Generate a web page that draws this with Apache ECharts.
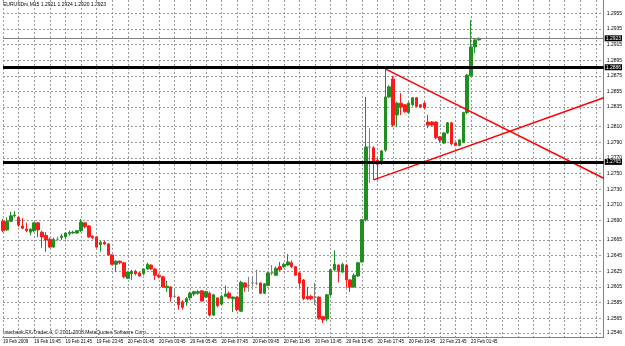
<!DOCTYPE html>
<html><head><meta charset="utf-8">
<script src="https://cdn.jsdelivr.net/npm/echarts@6/dist/echarts.min.js"></script>
<style>html,body{margin:0;padding:0;background:#fff}#c{width:625px;height:346px}</style>
</head><body><div id="c"></div>
<script>
const symbolTitle = 'EURUSDm,M15 1.2921 1.2924 1.2920 1.2923';
const copyright = 'Interbank FX-Trader 4, \u00a9 2001-2008 MetaQuotes Software Corp.';
const timeLabels = ['19 Feb 2009','19 Feb 19:45','19 Feb 21:45','19 Feb 23:45','20 Feb 01:45','20 Feb 03:45','20 Feb 05:45','20 Feb 07:45','20 Feb 09:45','20 Feb 11:45','20 Feb 13:45','20 Feb 15:45','20 Feb 17:45','20 Feb 19:45','22 Feb 23:45','23 Feb 01:45'];
const yTicks = [1.2955,1.2935,1.2915,1.2895,1.2875,1.2855,1.2835,1.2810,1.2790,1.2770,1.2750,1.2730,1.2710,1.2690,1.2665,1.2645,1.2625,1.2605,1.2585,1.2565,1.2546];
// [open, close, low, high]
const candles = [
[1.2689,1.2677,1.2675,1.2692],[1.2678,1.2689,1.2677,1.2694],[1.2689,1.2696,1.2688,1.2701],[1.2696,1.2697,1.2694,1.2702],
[1.2694,1.2684,1.2682,1.2696],[1.2683,1.2680,1.2679,1.2693],[1.2679,1.2677,1.2675,1.2687],[1.2675,1.2679,1.2671,1.2680],
[1.2677,1.2687,1.2675,1.2688],[1.2687,1.2678,1.2669,1.2688],[1.2675,1.2669,1.2655,1.2677],[1.2671,1.2665,1.2650,1.2675],
[1.2666,1.2656,1.2655,1.2668],[1.2656,1.2666,1.2655,1.2668],[1.2666,1.2666,1.2664,1.2669],[1.2668,1.2670,1.2665,1.2673],
[1.2669,1.2674,1.2666,1.2675],[1.2673,1.2675,1.2671,1.2677],[1.2674,1.2675,1.2673,1.2677],[1.2674,1.2677,1.2673,1.2678],
[1.2677,1.2688,1.2675,1.2692],[1.2687,1.2682,1.2680,1.2688],[1.2683,1.2669,1.2668,1.2684],[1.2670,1.2668,1.2666,1.2671],
[1.2669,1.2656,1.2655,1.2670],[1.2659,1.2662,1.2650,1.2664],[1.2662,1.2660,1.2659,1.2664],[1.2660,1.2646,1.2645,1.2661],
[1.2646,1.2634,1.2633,1.2647],[1.2634,1.2638,1.2624,1.2639],[1.2638,1.2636,1.2634,1.2639],[1.2636,1.2618,1.2616,1.2637],
[1.2616,1.2624,1.2615,1.2625],[1.2622,1.2625,1.2614,1.2627],[1.2625,1.2622,1.2620,1.2627],[1.2623,1.2619,1.2618,1.2624],
[1.2622,1.2628,1.2620,1.2629],[1.2628,1.2634,1.2627,1.2636],[1.2633,1.2628,1.2627,1.2634],[1.2628,1.2620,1.2614,1.2629],
[1.2620,1.2618,1.2616,1.2622],[1.2618,1.2605,1.2604,1.2619],[1.2604,1.2606,1.2599,1.2613],[1.2605,1.2592,1.2586,1.2606],
[1.2593,1.2593,1.2591,1.2601],[1.2592,1.2582,1.2576,1.2593],[1.2586,1.2579,1.2576,1.2588],[1.2586,1.2590,1.2581,1.2592],
[1.2591,1.2597,1.2588,1.2599],[1.2596,1.2599,1.2593,1.2600],[1.2597,1.2599,1.2595,1.2601],[1.2600,1.2587,1.2586,1.2601],
[1.2592,1.2599,1.2591,1.2600],[1.2597,1.2569,1.2567,1.2599],[1.2569,1.2595,1.2568,1.2596],[1.2591,1.2581,1.2579,1.2592],
[1.2583,1.2593,1.2582,1.2595],[1.2593,1.2596,1.2592,1.2607],[1.2597,1.2591,1.2590,1.2599],[1.2590,1.2592,1.2573,1.2593],
[1.2592,1.2576,1.2574,1.2593],[1.2574,1.2611,1.2573,1.2613],[1.2610,1.2605,1.2599,1.2611],[1.2607,1.2607,1.2599,1.2618],
[1.2610,1.2610,1.2605,1.2619],[1.2610,1.2610,1.2607,1.2627],[1.2610,1.2597,1.2596,1.2611],[1.2597,1.2609,1.2596,1.2610],
[1.2607,1.2623,1.2606,1.2624],[1.2623,1.2623,1.2620,1.2633],[1.2620,1.2629,1.2619,1.2631],[1.2631,1.2627,1.2625,1.2637],
[1.2631,1.2634,1.2629,1.2636],[1.2633,1.2637,1.2632,1.2647],[1.2636,1.2631,1.2629,1.2639],[1.2631,1.2620,1.2619,1.2632],
[1.2623,1.2610,1.2604,1.2624],[1.2614,1.2590,1.2588,1.2615],[1.2593,1.2590,1.2588,1.2605],[1.2593,1.2590,1.2588,1.2595],
[1.2592,1.2592,1.2582,1.2610],[1.2592,1.2565,1.2563,1.2593],[1.2567,1.2563,1.2559,1.2568],[1.2564,1.2595,1.2561,1.2596],
[1.2595,1.2627,1.2593,1.2628],[1.2627,1.2634,1.2625,1.2652],[1.2633,1.2625,1.2611,1.2634],[1.2624,1.2634,1.2623,1.2636],
[1.2633,1.2614,1.2604,1.2634],[1.2614,1.2605,1.2599,1.2615],[1.2605,1.2620,1.2604,1.2622],[1.2619,1.2636,1.2618,1.2637],
[1.2637,1.2691,1.2636,1.2692],[1.2691,1.2784,1.2689,1.2848],[1.2784,1.2784,1.2738,1.2808],[1.2783,1.2764,1.2742,1.2785],
[1.2767,1.2762,1.2742,1.2770],[1.2764,1.2779,1.2761,1.2780],[1.2780,1.2848,1.2778,1.2884],[1.2848,1.2861,1.2847,1.2863],
[1.2871,1.2812,1.2810,1.2875],[1.2825,1.2840,1.2810,1.2842],[1.2840,1.2835,1.2825,1.2853],[1.2838,1.2829,1.2828,1.2839],
[1.2828,1.2840,1.2826,1.2842],[1.2838,1.2847,1.2836,1.2848],[1.2847,1.2836,1.2835,1.2848],[1.2838,1.2835,1.2834,1.2839],
[1.2840,1.2834,1.2833,1.2842],[1.2816,1.2812,1.2808,1.2825],[1.2816,1.2812,1.2811,1.2817],[1.2816,1.2796,1.2794,1.2817],
[1.2797,1.2793,1.2790,1.2798],[1.2789,1.2802,1.2788,1.2803],[1.2802,1.2815,1.2801,1.2816],[1.2815,1.2788,1.2786,1.2816],
[1.2789,1.2786,1.2785,1.2790],[1.2786,1.2793,1.2785,1.2794],[1.2790,1.2828,1.2789,1.2829],[1.2828,1.2876,1.2826,1.2877],
[1.2875,1.2912,1.2874,1.2946],[1.2912,1.2921,1.2904,1.2922],[1.2921,1.2923,1.2920,1.2924]
];
const levelLines = [1.2886, 1.2765];
const bidLine = 1.2923;
const trendDown = [[98, 1.2884], [154, 1.2744]];
const trendUp = [[95, 1.2742], [154, 1.2847]];
const slotCount = 155;
const slots = Array.from({length: slotCount}, (_, i) => String(i));

const FONT = 'Liberation Sans';
const chart = echarts.init(document.getElementById('c'), null, {renderer: 'canvas'});
chart.setOption({
  animation: false,
  backgroundColor: '#ffffff',
  grid: {left: 1, right: 18.8, top: 0, bottom: 9},
  xAxis: {
    type: 'category', data: slots, boundaryGap: false,
    axisLine: {show: true, lineStyle: {color: '#808080', width: 1}},
    axisTick: {show: false},
    axisLabel: {
      interval: 7, align: 'left', margin: 2, fontSize: 4.5, color: '#000', fontFamily: FONT,
      formatter: (v, i) => (i % 8 === 0 && timeLabels[i / 8]) ? timeLabels[i / 8] : ''
    },
    splitLine: {show: true, interval: 3, lineStyle: {color: '#9a9a9a', width: 1, type: [2, 2]}}
  },
  yAxis: {
    type: 'value', position: 'right', min: 1.2541, max: 1.2972, scale: true,
    axisLine: {show: true, lineStyle: {color: '#808080', width: 1}},
    axisTick: {show: false, customValues: yTicks},
    axisLabel: {customValues: yTicks, fontSize: 5, color: '#000', margin: 3, fontFamily: FONT,
      formatter: v => v.toFixed(4)},
    splitLine: {show: true, lineStyle: {color: '#9a9a9a', width: 1, type: [2, 2]}}
  },
  graphic: [
    {type: 'text', left: 3, top: 2, style: {text: symbolTitle, fontSize: 5, fill: '#000', fontFamily: FONT}},
    {type: 'text', left: 3, top: 330, style: {text: copyright, fontSize: 5, fill: '#000', fontFamily: FONT}}
  ],
  series: [
    {
      type: 'candlestick', data: candles, barWidth: 3,
      itemStyle: {color: '#1f8f1f', color0: '#ff1a1a', borderColor: '#1f8f1f', borderColor0: '#ff1a1a',
        borderColorDoji: '#808080', borderWidth: 1},
      markLine: {
        silent: true, symbol: 'none', animation: false, precision: 4,
        label: {show: true, position: 'end', distance: 1, formatter: p => Number(p.value).toFixed(4),
          color: '#fff', backgroundColor: '#000', fontSize: 5, padding: [1, 1, 0, 1], fontFamily: FONT},
        data: [
          {yAxis: levelLines[0], lineStyle: {color: '#000', width: 3, type: 'solid'}},
          {yAxis: levelLines[1], lineStyle: {color: '#000', width: 3, type: 'solid'}},
          {yAxis: bidLine, lineStyle: {color: '#808080', width: 1, type: 'solid'}}
        ]
      }
    },
    {type: 'line', data: trendDown, symbol: 'none', lineStyle: {color: '#ff0000', width: 1.5}, silent: true, z: 3},
    {type: 'line', data: trendUp, symbol: 'none', lineStyle: {color: '#ff0000', width: 1.5}, silent: true, z: 3}
  ]
});
</script></body></html>
